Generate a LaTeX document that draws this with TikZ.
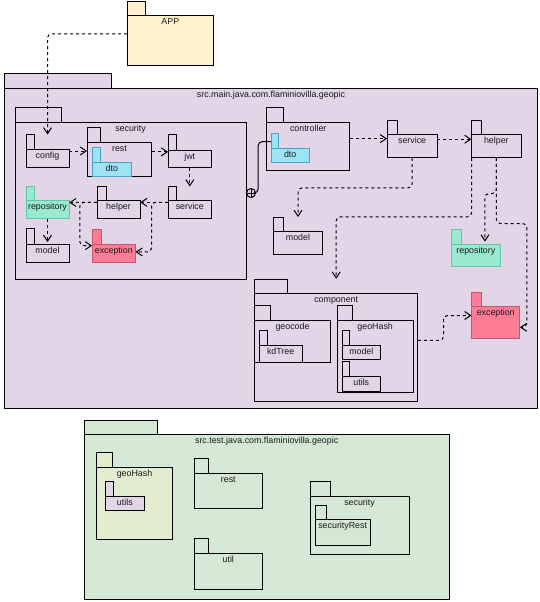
\documentclass[tikz,border=0pt]{standalone}
\usepackage{fontspec}
\setmainfont{Liberation Sans}
\usetikzlibrary{arrows.meta,calc,fit}
\definecolor{lav}{HTML}{E1D5E7}
\definecolor{appF}{HTML}{FFF2CC}
\definecolor{dtoF}{HTML}{9EE2F5}
\definecolor{dtoD}{HTML}{4AA3C4}
\definecolor{repoF}{HTML}{99E9CF}
\definecolor{repoD}{HTML}{67C4A3}
\definecolor{excF}{HTML}{FF7C97}
\definecolor{excD}{HTML}{C4566E}
\definecolor{testF}{HTML}{D5E8D4}
\definecolor{ghF}{HTML}{E2EDCF}
\tikzset{
  pkgS/.style={fill=lav,draw=black,line width=1pt},
  appS/.style={fill=appF,draw=black,line width=1pt},
  dtoS/.style={fill=dtoF,draw=dtoD,line width=1pt},
  repoS/.style={fill=repoF,draw=repoD,line width=1pt},
  excS/.style={fill=excF,draw=excD,line width=1pt},
  testS/.style={fill=testF,draw=black,line width=1pt},
  ghS/.style={fill=ghF,draw=black,line width=1pt},
  lbl/.style={anchor=base,inner sep=0pt,font=\fontsize{8.85}{10}\selectfont,text=black!90},
  dep/.style={draw=black,line width=1pt,dash pattern=on 3pt off 3pt,rounded corners=4pt,
    -{Straight Barb[length=6pt,width=8pt,line width=1pt]}},
}
% name, x1, tab top, tab x2, body top, x2, y2, style, label
\newcommand\pkg[9]{%
  \path[#8] (#2,#3) rectangle (#4,#5);
  \path[#8] (#2,#5) rectangle (#6,#7);
  \node[lbl] at ({(#2+#6)/2},{#5+9}) {#9};
  \node[fit={(#2,#3) (#6,#7)},inner sep=0pt,draw=none] (#1) {};
}
\begin{document}
\begin{tikzpicture}[x=1pt,y=-1pt]
\useasboundingbox (0,0) rectangle (540,602);
% APP
\pkg{app}{127.3}{2}{145}{16}{213.3}{65.7}{appS}{APP}
% main package
\pkg{main}{4.7}{73.3}{111.3}{88}{537.3}{408.3}{pkgS}{src.main.java.com.flaminiovilla.geopic}
% security
\pkg{security}{15}{107.3}{61.3}{122.3}{246}{279}{pkgS}{security}
\pkg{config}{26}{134.7}{34.7}{149.3}{69}{167.3}{pkgS}{config}
\pkg{rest}{87.3}{127.7}{100}{142.7}{151.7}{176}{pkgS}{rest}
\pkg{dtoA}{92.3}{147.7}{100}{162.3}{131.3}{176}{dtoS}{dto}
\pkg{jwt}{168.3}{134.7}{176.7}{150}{211.3}{167.3}{pkgS}{jwt}
\pkg{secservice}{168.3}{186.7}{176.7}{200}{211.3}{218}{pkgS}{service}
\pkg{sechelper}{97}{186.7}{106}{200}{140}{218}{pkgS}{helper}
\pkg{secrepo}{26}{186.7}{34}{200}{69}{218.3}{repoS}{repository}
\pkg{secmodel}{26}{228.7}{34.7}{244}{69}{262}{pkgS}{model}
\pkg{secexc}{92.3}{229.3}{101}{244}{135.3}{262}{excS}{exception}
% controller etc
\pkg{ctrl}{266.7}{107.3}{283.3}{122.7}{349.7}{170}{pkgS}{controller}
\pkg{dtoB}{271}{133.3}{278.3}{148.3}{309.3}{162.7}{dtoS}{dto}
\pkg{mservice}{387.3}{120.7}{397.7}{134.7}{437}{157.7}{pkgS}{service}
\pkg{mhelper}{471.7}{120.7}{481}{134.7}{521}{157.7}{pkgS}{helper}
\pkg{mmodel}{273.3}{217.3}{283.3}{231.7}{322.7}{254.3}{pkgS}{model}
\pkg{mrepo}{451}{229.3}{461}{244}{500.7}{266}{repoS}{repository}
% component
\pkg{comp}{254.7}{279}{287.7}{293.3}{417.7}{401.7}{pkgS}{component}
\pkg{geocode}{254.7}{305}{270}{320.7}{330.3}{362.3}{pkgS}{geocode}
\pkg{kdtree}{259.3}{330}{267.3}{345.3}{302}{362.3}{pkgS}{kdTree}
\pkg{geohash}{337.3}{305}{352.7}{320.7}{413}{392.3}{pkgS}{geoHash}
\pkg{ghmodel}{342.3}{330}{349}{345.3}{380.3}{359.3}{pkgS}{model}
\pkg{ghutils}{342.3}{361.7}{349}{376.7}{380.3}{391}{pkgS}{utils}
\pkg{mexc}{471.7}{292.7}{481.7}{306.7}{519.7}{338.3}{excS}{exception}
% test package
\pkg{test}{84}{420}{157.3}{434.3}{449.3}{599.3}{testS}{src.test.java.com.flaminiovilla.geopic}
\pkg{tgeohash}{96.7}{452.3}{112.3}{467}{172.3}{539}{ghS}{geoHash}
\pkg{tutils}{105.7}{481.3}{113.3}{496}{144}{510}{pkgS}{utils}
\pkg{trest}{194.3}{458.7}{208.3}{473.3}{262.3}{508.7}{testS}{rest}
\pkg{tutil}{194.3}{538.7}{208.3}{553.3}{262.3}{589}{testS}{util}
\pkg{tsec}{310}{481}{330}{496}{409}{554.7}{testS}{security}
\pkg{tsecrest}{315.3}{505}{326.7}{519.3}{370}{545.3}{testS}{securityRest}
% containment
\node[circle,draw=black,fill=lav,line width=1pt,minimum size=9pt,inner sep=0pt] (plus) at (251,193) {};
\draw[line width=1pt] (plus.north) -- (plus.south) (plus.west) -- (plus.east);
\coordinate (dtoIn) at ($(dtoB.west)+(0,-6.3)$);
\draw[line width=1pt,rounded corners=4pt] (plus.east) -| ($(dtoIn)+(-12.7,0)$) -- (dtoIn);
% dependencies
\draw[dep] (app.west) -| (config.north);
\draw[dep] (config.east) -- (config.east -| rest.west);
\draw[dep] (rest.east) -- (rest.east -| jwt.west);
\draw[dep] (jwt.south) -- (secservice.north);
\draw[dep] (secservice.west) -- (sechelper.east);
\draw[dep] (sechelper.west) -- (secrepo.east);
\draw[dep] (secservice.west) -- ++(-16.6,0) |- ($(secexc.east)+(0,6.3)$);
\draw[dep] (sechelper.west) -- ++(-17,0) |- (secexc.west);
\draw[dep] (secrepo.south) -- ($(secmodel.north)+(0,13.5)$);
\draw[dep] (ctrl.east) -- (ctrl.east -| mservice.west);
\draw[dep] (mservice.east) -- (mhelper.west);
\draw[dep] (mservice.south) -- ++(0,30) -| (mmodel.north);
\draw[dep] (mhelper.south west) -- ++(0,59) -| (comp.north);
\draw[dep] (mhelper.south) -- ++(0,35.6) -| ($(mrepo.north)+(9.1,12.5)$);
\draw[dep] (mhelper.south) -- ++(0,65.6) -- ++(30.4,0) |- ($(mexc.east)+(0,11.8)$);
\draw[dep] (comp.east) -- ++(25.6,0) |- (mexc.west);
\end{tikzpicture}
\end{document}
